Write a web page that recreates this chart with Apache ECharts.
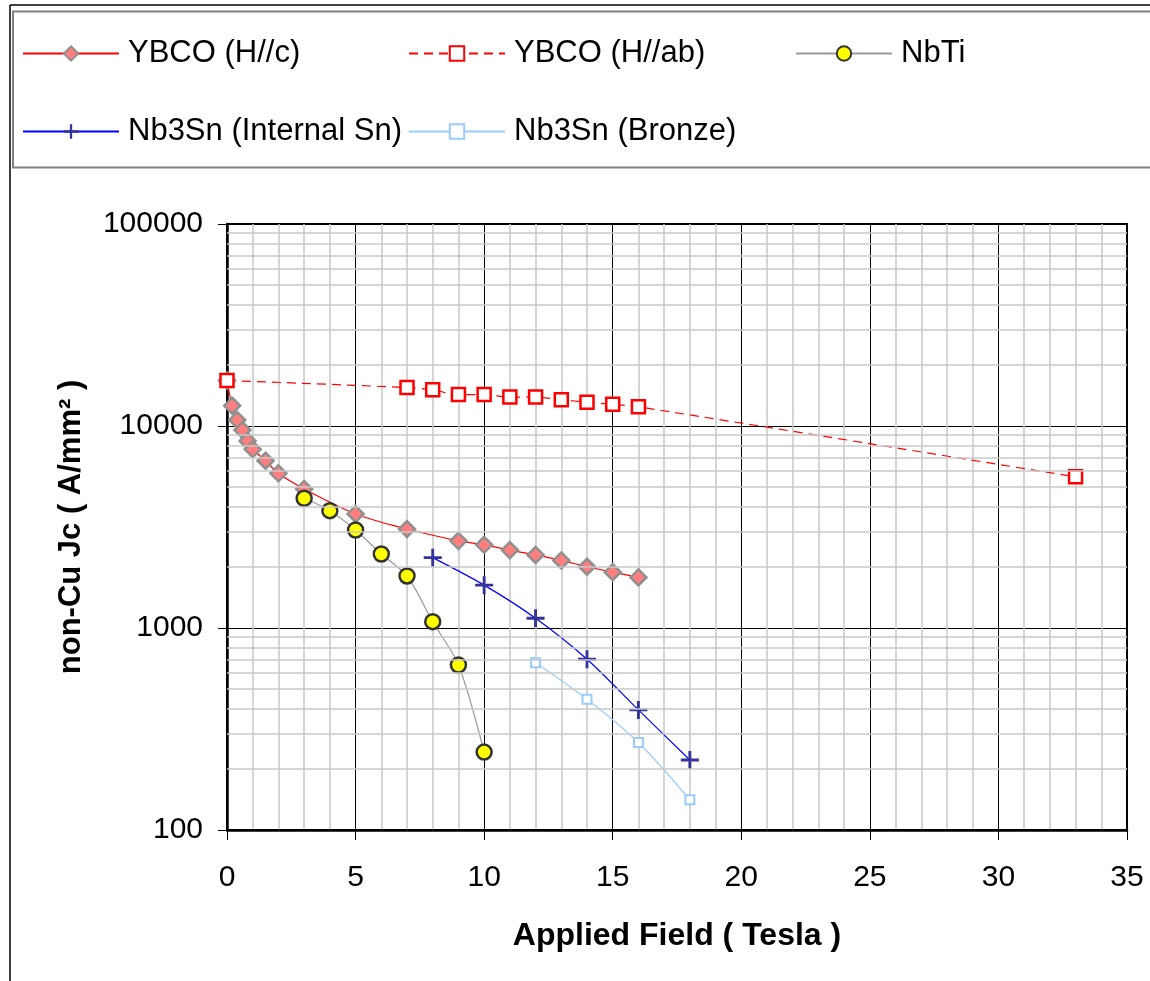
<!DOCTYPE html>
<html>
<head>
<meta charset="utf-8">
<script src="https://cdn.jsdelivr.net/npm/echarts@6/dist/echarts.min.js"></script>
<style>
  html, body { margin: 0; padding: 0; background: #fff; }
  #chart { width: 1150px; height: 981px; }
</style>
</head>
<body>
<div id="chart"></div>
<script>
// values
const ybcoC_x = [0, 0.2, 0.4, 0.6, 0.8, 1, 1.5, 2, 3, 5, 7, 9, 10, 11, 12, 13, 14, 15, 16];
const ybcoC_y = [16800, 12600, 10700, 9550, 8430, 7670, 6730, 5830, 4880, 3670, 3090, 2700, 2580, 2430, 2300, 2160, 2010, 1890, 1780];
const ybcoAb_x = [0, 7, 8, 9, 10, 11, 12, 13, 14, 15, 16, 33];
const ybcoAb_y = [16800, 15500, 15100, 14300, 14300, 13900, 13900, 13500, 13100, 12800, 12450, 5600];
const nbti_x = [3, 4, 5, 6, 7, 8, 9, 10];
const nbti_y = [4390, 3810, 3055, 2325, 1810, 1075, 656, 243];
const intSn_x = [8, 10, 12, 14, 16, 18];
const intSn_y = [2230, 1630, 1117, 700, 393, 222];
const bronze_x = [12, 14, 16, 18];
const bronze_y = [673, 444, 271, 141];

const seriesNames = ['YBCO (H//c)', 'YBCO (H//ab)', 'NbTi', 'Nb3Sn (Internal Sn)', 'Nb3Sn (Bronze)'];
// minor log gridlines (2..9 in each decade)
const minorY = [200, 300, 400, 500, 600, 700, 800, 900,
                2000, 3000, 4000, 5000, 6000, 7000, 8000, 9000,
                20000, 30000, 40000, 50000, 60000, 70000, 80000, 90000];

const pairs = (xs, ys) => xs.map((x, i) => [x, ys[i]]);
const FONT = "'Liberation Sans', Arial, sans-serif";
const plus = 'path://M4.2,0H5.8V4.2H10V5.8H5.8V10H4.2V5.8H0V4.2H4.2Z';

// one legend box per entry so they sit in columns like the original
const legendPos = [
  { name: seriesNames[0], left: 22, top: 38 },
  { name: seriesNames[1], left: 408, top: 38 },
  { name: seriesNames[2], left: 795, top: 38 },
  { name: seriesNames[3], left: 22, top: 116 },
  { name: seriesNames[4], left: 408, top: 116 }
];
const legends = legendPos.map(p => ({
  data: [p.name],
  left: p.left,
  top: p.top,
  padding: 0,
  itemWidth: 96,
  itemHeight: 18,
  selectedMode: false,
  lineStyle: { width: 2 },
  textStyle: { fontFamily: FONT, fontSize: 31, color: '#000', padding: [0, 0, 0, 4] }
}));

const chart = echarts.init(document.getElementById('chart'), null, { renderer: 'canvas' });

chart.setOption({
  backgroundColor: '#fff',
  animation: false,
  textStyle: { fontFamily: FONT },
  graphic: [
    { type: 'line', shape: { x1: 10, y1: 5, x2: 1150, y2: 5 }, style: { stroke: '#000', lineWidth: 1.5 } },
    { type: 'line', shape: { x1: 10, y1: 5, x2: 10, y2: 981 }, style: { stroke: '#000', lineWidth: 1.5 } },
    { type: 'rect', shape: { x: 13, y: 11.5, width: 1150, height: 156 }, style: { fill: 'none', stroke: '#808080', lineWidth: 2 } }
  ],
  legend: legends,
  grid: {
    left: 227, right: 23, top: 224, bottom: 151,
    show: true, borderColor: '#000', borderWidth: 2, backgroundColor: 'transparent'
  },
  xAxis: {
    type: 'value',
    min: 0, max: 35, interval: 5,
    name: 'Applied Field ( Tesla )',
    nameLocation: 'middle',
    nameGap: 90,
    nameTextStyle: { fontFamily: FONT, fontSize: 32, fontWeight: 'bold', color: '#000' },
    axisLine: { lineStyle: { color: '#000', width: 2.5 } },
    axisTick: { show: true, length: 10, lineStyle: { color: '#000', width: 1 } },
    axisLabel: { fontFamily: FONT, fontSize: 30, color: '#000', margin: 33 },
    splitLine: { show: true, lineStyle: { color: '#000', width: 1 } },
    minorTick: { show: false, splitNumber: 5 },
    minorSplitLine: { show: true, lineStyle: { color: '#c8c8c8', width: 1.5 } }
  },
  yAxis: {
    type: 'log',
    logBase: 10,
    min: 100, max: 100000,
    name: 'non-Cu Jc ( A/mm² )',
    nameLocation: 'middle',
    nameRotate: 90,
    nameGap: 140,
    nameTextStyle: { fontFamily: FONT, fontSize: 31, fontWeight: 'bold', color: '#000' },
    axisLine: { lineStyle: { color: '#000', width: 2.5 } },
    axisTick: { show: true, length: 9, lineStyle: { color: '#000', width: 1 } },
    axisLabel: { fontFamily: FONT, fontSize: 30, color: '#000', margin: 24, formatter: v => String(v) },
    splitLine: { show: true, lineStyle: { color: '#000', width: 1 } }
  },
  series: [
    {
      name: 'minor grid',
      type: 'line',
      data: [],
      z: 1,
      silent: true,
      markLine: {
        silent: true,
        symbol: 'none',
        label: { show: false },
        lineStyle: { color: '#c8c8c8', width: 1.5, type: 'solid' },
        data: minorY.map(v => ({ yAxis: v }))
      }
    },
    {
      name: seriesNames[0],
      type: 'line',
      smooth: 0.3,
      data: pairs(ybcoC_x, ybcoC_y),
      symbol: 'diamond',
      symbolSize: 16,
      lineStyle: { color: '#ff0000', width: 1.2 },
      itemStyle: { color: '#ff7f7f', borderColor: '#909090', borderWidth: 2.5 }
    },
    {
      name: seriesNames[1],
      type: 'line',
      smooth: 0.3,
      data: pairs(ybcoAb_x, ybcoAb_y),
      symbol: 'rect',
      symbolSize: 13,
      lineStyle: { color: '#ff0000', width: 1.2, type: [9, 6] },
      itemStyle: { color: '#ffffff', borderColor: '#ff0000', borderWidth: 2.5 }
    },
    {
      name: seriesNames[2],
      type: 'line',
      smooth: 0.3,
      data: pairs(nbti_x, nbti_y),
      symbol: 'circle',
      symbolSize: 15,
      lineStyle: { color: '#999999', width: 1.2 },
      itemStyle: { color: '#ffff00', borderColor: '#333333', borderWidth: 2.5 }
    },
    {
      name: seriesNames[3],
      type: 'line',
      smooth: 0.3,
      data: pairs(intSn_x, intSn_y),
      symbol: plus,
      symbolSize: 18,
      lineStyle: { color: '#0000ff', width: 1.2 },
      itemStyle: { color: '#333399' }
    },
    {
      name: seriesNames[4],
      type: 'line',
      smooth: 0.3,
      data: pairs(bronze_x, bronze_y),
      symbol: 'rect',
      symbolSize: 9,
      lineStyle: { color: '#99ccff', width: 1.2 },
      itemStyle: { color: '#ffffff', borderColor: '#99ccff', borderWidth: 2 }
    }
  ]
});
</script>
</body>
</html>
